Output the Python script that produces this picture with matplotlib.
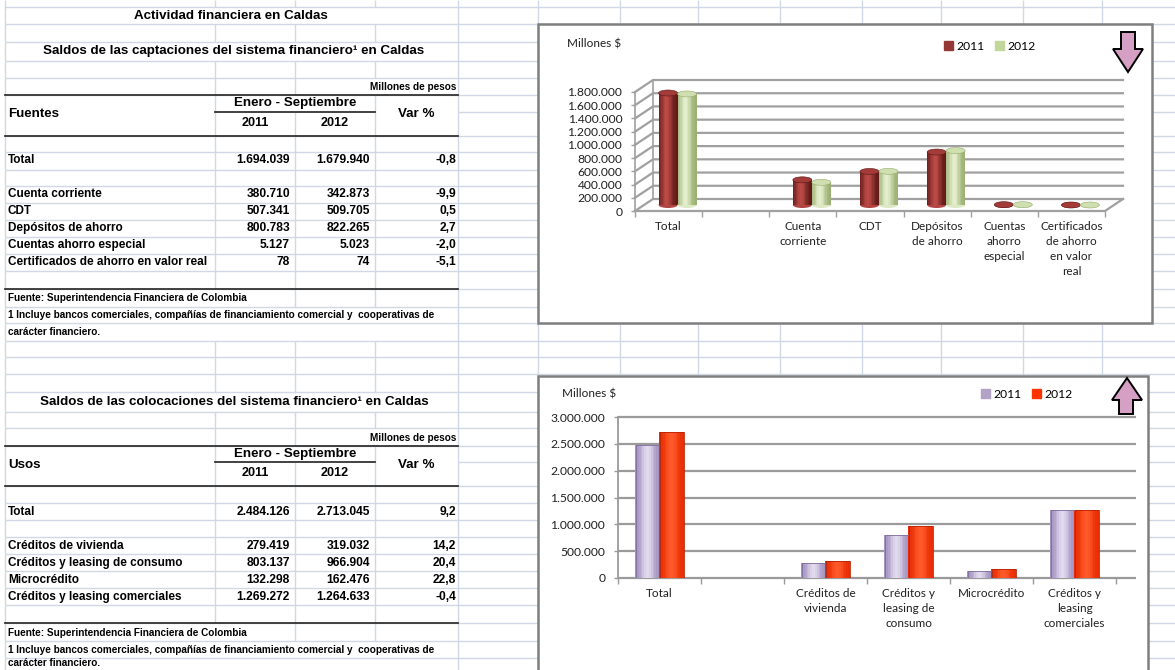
import numpy as np
import matplotlib.pyplot as plt
from matplotlib import font_manager
from matplotlib.colors import to_rgb
from matplotlib.patches import Patch, Ellipse, Rectangle, Polygon

# ---- datos de las tablas ----
capt_fuentes = ['Total', 'Cuenta corriente', 'CDT', 'Depósitos de ahorro',
                'Cuentas ahorro especial', 'Certificados de ahorro en valor real']
capt_2011 = [1694039, 380710, 507341, 800783, 5127, 78]
capt_2012 = [1679940, 342873, 509705, 822265, 5023, 74]
capt_var = [-0.8, -9.9, 0.5, 2.7, -2.0, -5.1]

coloc_usos = ['Total', 'Créditos de vivienda', 'Créditos y leasing de consumo',
              'Microcrédito', 'Créditos y leasing comerciales']
coloc_2011 = [2484126, 279419, 803137, 132298, 1269272]
coloc_2012 = [2713045, 319032, 966904, 162476, 1264633]
coloc_var = [9.2, 14.2, 20.4, 22.8, -0.4]

years = ['2011', '2012']

# categorias de los graficos (con la columna vacia despues de Total)
chart1_cats = ['Total', '', 'Cuenta\ncorriente', 'CDT', 'Depósitos\nde ahorro',
               'Cuentas\nahorro\nespecial', 'Certificados\nde ahorro\nen valor\nreal']
chart2_cats = ['Total', '', 'Créditos de\nvivienda', 'Créditos y\nleasing de\nconsumo',
               'Microcrédito', 'Créditos y\nleasing\ncomerciales']
chart1_2011 = [capt_2011[0], np.nan] + capt_2011[1:]
chart1_2012 = [capt_2012[0], np.nan] + capt_2012[1:]
chart2_2011 = [coloc_2011[0], np.nan] + coloc_2011[1:]
chart2_2012 = [coloc_2012[0], np.nan] + coloc_2012[1:]
chart1_ticks = np.arange(0, 1800001, 200000)
chart2_ticks = np.arange(0, 3000001, 500000)


def miles(v):
    return format(int(v), ',').replace(',', '.')


def pct(v):
    return ('%.1f' % v).replace('.', ',')


names = {f.name for f in font_manager.fontManager.ttflist}
if 'Liberation Sans Narrow' in names:
    TAB_FONT, k = 'Liberation Sans Narrow', 1.0
else:
    TAB_FONT, k = 'Liberation Sans', 0.96
CH_FONT = 'Lato'
TXT = '#202020'

W, H = 1175, 670
fig = plt.figure(figsize=(W / 100, H / 100), dpi=100)
bg = fig.add_axes([0, 0, 1, 1])
bg.set_xlim(0, W)
bg.set_ylim(H, 0)
bg.axis('off')

# ---- cuadricula de la hoja ----
row_lines = [0, 7, 24, 42, 61, 78, 95, 112, 136, 152, 170, 186, 203, 220, 237, 254, 271,
             289, 307, 323, 341, 357, 374, 392, 412, 428, 446, 462, 486, 503, 520, 537,
             554, 571, 588, 605, 623, 641, 658, 670]
col_lines = [5, 215, 295, 375, 458, 538, 620, 698, 780, 862, 941, 1023, 1102]
merged = {7: [215, 295, 375], 42: [215, 295, 375], 78: [375], 95: [295],
          289: [215], 307: [215, 295, 375], 323: [215, 295, 375],
          392: [215, 295, 375], 428: [375], 446: [295], 623: [215],
          641: [215, 295, 375], 658: [215, 295, 375]}
gcol_sheet = '#D0D7E5'
for y in row_lines[1:-1]:
    x0 = 458 if y in (112, 462) else 5   # celdas combinadas del encabezado
    bg.hlines(y, x0, W, color=gcol_sheet, lw=1, zorder=1)
for y0, y1 in zip(row_lines[:-1], row_lines[1:]):
    xs = [x for x in col_lines if x not in merged.get(y0, [])]
    bg.vlines(xs, y0, y1, color=gcol_sheet, lw=1, zorder=1)

for y, x0, x1 in [(95, 5, 458), (112, 215, 375), (136, 5, 458), (289, 5, 458),
                  (446, 5, 458), (462, 215, 375), (486, 5, 458), (623, 5, 458)]:
    bg.plot([x0, x1], [y, y], color='#333333', lw=1.3, zorder=3)


def t(x, y, s, ha='left', size=9, weight='bold'):
    bg.text(x, y, s, ha=ha, va='center', fontsize=size * k, family=TAB_FONT,
            weight=weight, color='black', zorder=6)


# ---- tabla captaciones ----
t(231, 16, 'Actividad financiera en Caldas', 'center', 10)
t(234, 51, 'Saldos de las captaciones del sistema financiero¹ en Caldas', 'center', 10)
t(456, 87, 'Millones de pesos', 'right', 7.5)
t(8, 114, 'Fuentes', size=10)
t(295, 103, 'Enero - Septiembre', 'center', 10)
t(255, 123, years[0], 'center', 9.5)
t(335, 123, years[1], 'center', 9.5)
t(416, 114, 'Var %', 'center', 10)
rows1 = [160, 194, 211, 228, 245, 262]
for y, lab, a, b, v in zip(rows1, capt_fuentes, capt_2011, capt_2012, capt_var):
    t(8, y, lab, size=8.8)
    t(290, y, miles(a), 'right')
    t(370, y, miles(b), 'right')
    t(456, y, pct(v), 'right')
t(8, 298, 'Fuente: Superintendencia Financiera de Colombia', size=7.5)
t(8, 315, '1 Incluye bancos comerciales, compañías de financiamiento comercial y  cooperativas de', size=7.5)
t(8, 332, 'carácter financiero.', size=7.5)

# ---- tabla colocaciones ----
t(234, 402, 'Saldos de las colocaciones del sistema financiero¹ en Caldas', 'center', 10)
t(456, 438, 'Millones de pesos', 'right', 7.5)
t(8, 465, 'Usos', size=10)
t(295, 454, 'Enero - Septiembre', 'center', 10)
t(255, 473, years[0], 'center', 9.5)
t(335, 473, years[1], 'center', 9.5)
t(416, 465, 'Var %', 'center', 10)
rows2 = [512, 546, 563, 580, 597]
for y, lab, a, b, v in zip(rows2, coloc_usos, coloc_2011, coloc_2012, coloc_var):
    t(8, y, lab, size=8.8)
    t(290, y, miles(a), 'right')
    t(370, y, miles(b), 'right')
    t(456, y, pct(v), 'right')
t(8, 633, 'Fuente: Superintendencia Financiera de Colombia', size=7.5)
t(8, 650, '1 Incluye bancos comerciales, compañías de financiamiento comercial y  cooperativas de', size=7.5)
t(8, 663, 'carácter financiero.', size=7.5)

# ---- marcos de los graficos ----
bg.add_patch(Rectangle((538, 24), 614, 299, fc='white', ec='#7f7f7f', lw=1.8, zorder=5))
bg.add_patch(Rectangle((538, 376), 610, 320, fc='white', ec='#7f7f7f', lw=1.8, zorder=5))
bg.text(567, 44, 'Millones $', ha='left', va='center', fontsize=8.5, family=CH_FONT,
        color=TXT, zorder=6)
bg.text(562, 394, 'Millones $', ha='left', va='center', fontsize=8.5, family=CH_FONT,
        color=TXT, zorder=6)
pink = '#d5a0c3'
bg.add_patch(Polygon([(1121, 32), (1135, 32), (1135, 49), (1143, 49), (1128, 72),
                      (1113, 49), (1121, 49)], closed=True, fc=pink, ec='black', lw=1.4, zorder=6))
bg.add_patch(Polygon([(1127, 378), (1142, 400), (1133, 400), (1133, 414), (1119, 414),
                      (1119, 400), (1112, 400)], closed=True, fc=pink, ec='black', lw=1.4, zorder=6))


def px_axes(x0, y0, x1, y1):
    a = fig.add_axes([x0 / W, 1 - y1 / H, (x1 - x0) / W, (y1 - y0) / H])
    a.patch.set_visible(False)
    for s in a.spines.values():
        s.set_visible(False)
    return a


def shade(dark, light, n, peak, spread):
    tt = (np.arange(n) + 0.5) / n
    s = np.exp(-((tt - peak) / spread) ** 2)
    d, l = np.array(to_rgb(dark)), np.array(to_rgb(light))
    return [tuple(d + (l - d) * si) for si in s]


def axis_setup(ax, cats, ticks, gcol):
    n = len(cats)
    ax.set_xlim(-0.5, n - 0.5)
    ax.set_xticks(range(n))
    ax.set_xticklabels(cats, family=CH_FONT, fontsize=8.5, color=TXT)
    for lab in ax.get_xticklabels():
        lab.set_linespacing(1.45)
    ax.set_xticks(np.arange(-0.5, n), minor=True)
    ax.tick_params(axis='x', which='major', length=0, pad=7)
    ax.tick_params(axis='x', which='minor', length=4, width=1, color=gcol)
    ax.set_yticks(ticks)
    ax.set_yticklabels([miles(v) for v in ticks], family=CH_FONT, fontsize=8.7, color=TXT)
    ax.tick_params(axis='y', length=3, width=1, color=gcol, pad=6.2)


# ---- grafico 1: captaciones (3D cilindros) ----
gc1 = '#a0a0a0'
ax1 = px_axes(635, 92, 1105, 211)
n1 = len(chart1_cats)
ax1.set_ylim(0, chart1_ticks[-1])
axis_setup(ax1, chart1_cats, chart1_ticks, gc1)
cx = n1 / (1105 - 635)              # categorias por pixel
cy = chart1_ticks[-1] / (211 - 92)  # pesos por pixel
dx, dy = 18 * cx, 12 * cy
for v in chart1_ticks:
    ax1.plot([-0.5, -0.5 + dx, n1 - 0.5 + dx], [v, v + dy, v + dy], color=gc1, lw=1.6,
             clip_on=False, zorder=1)
ax1.plot([-0.5, -0.5], [0, chart1_ticks[-1]], color=gc1, lw=1.2, clip_on=False, zorder=1)
ax1.plot([-0.5 + dx] * 2, [dy, chart1_ticks[-1] + dy], color=gc1, lw=1.2, clip_on=False, zorder=1)
ax1.plot([-0.5, n1 - 0.5, n1 - 0.5 + dx], [0, 0, dy], color=gc1, lw=1.6, clip_on=False, zorder=1)

w1 = 19 * cx
eh = 6 * cy
styles1 = [('#5c1715', '#bb4a46', '#a33c39'), ('#98ad6e', '#e4eecd', '#cfdfaf')]
nst = 14
for j, (vals, (dark, light, cap)) in enumerate(zip([chart1_2011, chart1_2012], styles1)):
    cols = shade(dark, light, nst, 0.42, 0.32)
    for i, v in enumerate(vals):
        if np.isnan(v):
            continue
        xc = i + dx / 2 + (j - 0.5) * w1
        base, top = dy / 2, v + dy / 2
        edges = np.linspace(xc - w1 / 2, xc + w1 / 2, nst + 1)
        ax1.add_patch(Ellipse((xc, base), w1, eh, fc=cols[nst // 3], ec='none',
                              zorder=3 + j, clip_on=False))
        ax1.bar((edges[:-1] + edges[1:]) / 2, top - base, width=w1 / nst * 1.05, bottom=base,
                color=cols, lw=0, zorder=3 + j)
        ax1.add_patch(Ellipse((xc, top), w1, eh, fc=cap, ec=dark, lw=0.4, zorder=3.5 + j,
                              clip_on=False))
ax1.legend(handles=[Patch(color='#953735'), Patch(color='#c3d69b')], labels=years,
           loc='center', bbox_to_anchor=(990 / W, 1 - 46 / H), bbox_transform=fig.transFigure,
           ncol=2, frameon=False, handlelength=0.7, handleheight=0.7, handletextpad=0.3,
           columnspacing=0.9, prop={'family': CH_FONT, 'size': 8.7})

# ---- grafico 2: colocaciones ----
gc2 = '#9a9a9a'
ax2 = px_axes(618, 417, 1116, 578)
n2 = len(chart2_cats)
ax2.set_ylim(0, chart2_ticks[-1])
axis_setup(ax2, chart2_cats, chart2_ticks, gc2)
ext = n2 - 0.5 + 20 * n2 / (1116 - 618)
ax2.hlines(chart2_ticks, -0.5, ext, color=gc2, lw=1.6, clip_on=False, zorder=1)
ax2.plot([-0.5, -0.5], [0, chart2_ticks[-1]], color=gc2, lw=1.3, clip_on=False, zorder=1)

w2 = 24 * n2 / (1116 - 618)
styles2 = [('#9e8cbd', '#e2daee', '#7d6c9c'), ('#e62a00', '#ff5a2a', '#b82200')]
for j, (vals, (dark, light, edge)) in enumerate(zip([chart2_2011, chart2_2012], styles2)):
    cols = shade(dark, light, nst, 0.5, 0.3)
    for i, v in enumerate(vals):
        if np.isnan(v):
            continue
        xc = i + (j - 0.5) * w2
        edges = np.linspace(xc - w2 / 2, xc + w2 / 2, nst + 1)
        ax2.bar((edges[:-1] + edges[1:]) / 2, v, width=w2 / nst * 1.05, color=cols, lw=0,
                zorder=3)
        ax2.bar(xc, v, width=w2, fill=False, ec=edge, lw=0.6, zorder=4)
ax2.legend(handles=[Patch(color='#b3a2c7'), Patch(color='#ff3300')], labels=years,
           loc='center', bbox_to_anchor=(1027 / W, 1 - 394 / H), bbox_transform=fig.transFigure,
           ncol=2, frameon=False, handlelength=0.7, handleheight=0.7, handletextpad=0.3,
           columnspacing=0.9, prop={'family': CH_FONT, 'size': 8.7})

fig.savefig('out.png', dpi=100)
